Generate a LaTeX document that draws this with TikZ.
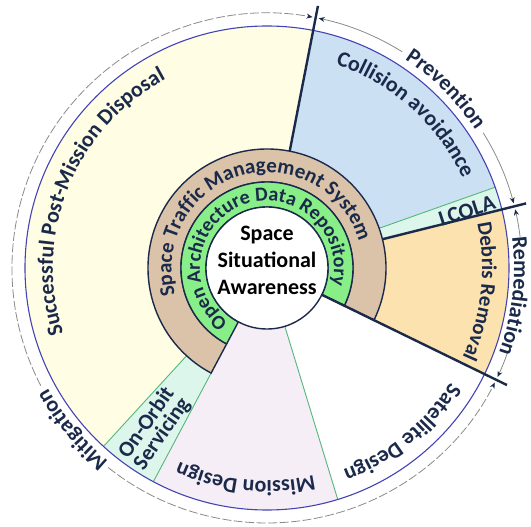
\documentclass[tikz,border=0pt]{standalone}
\usepackage{fontspec}
\newfontfamily\labelfont{Carlito}
\usetikzlibrary{arrows.meta,decorations.text}

\definecolor{inkblue}{HTML}{1B2A4A}
\definecolor{rimblue}{HTML}{4444B4}
\definecolor{seam}{HTML}{52B87A}
\definecolor{dimgrey}{HTML}{8A8A8A}
\definecolor{pmdfill}{HTML}{FFFDE4}
\definecolor{cafill}{HTML}{CCE0F4}
\definecolor{mintfill}{HTML}{DDF6EC}
\definecolor{drfill}{HTML}{FCE2AF}
\definecolor{mdfill}{HTML}{F6EEF6}
\definecolor{stmsfill}{HTML}{DAC3A8}
\definecolor{oadrfill}{HTML}{88EE88}

\newcommand{\arcfont}{\labelfont\bfseries\fontsize{22}{26}\selectfont}

\tikzset{
  sectorfill/.style={fill=#1},
  ringband/.style={fill=#1, draw=inkblue, line width=1.4pt},
  seamline/.style={draw=seam, line width=0.9pt},
  barline/.style={draw=inkblue, line width=2.4pt},
  rimline/.style={draw=rimblue, line width=1.1pt},
  dimarc/.style={draw=dimgrey, line width=0.8pt,
    -{Stealth[length=6pt, width=5pt, color=inkblue]}},
  dimdash/.style={dimarc, dash pattern=on 9pt off 2.5pt},
  flatlabel/.style={font=\arcfont, text=inkblue, align=center,
    inner sep=0pt},
}

% sector: style, start angle, end angle, inner radius, outer radius
\newcommand{\ringsector}[5]{%
  \path[#1] (#2:#4pt) arc[start angle=#2, end angle=#3, radius=#4pt]
    -- (#3:#5pt) arc[start angle=#3, end angle=#2, radius=#5pt] -- cycle;}

% curved label, read clockwise: mid angle, half span, baseline radius, font, text
\newcommand{\arclabel}[5]{%
  \path[decorate, decoration={text along path, text align=center,
      text color=inkblue, text={|#4|#5}}]
    ({#1+#2}:#3pt) arc[start angle={#1+#2}, end angle={#1-#2}, radius=#3pt];}

\begin{document}
\begin{tikzpicture}
  \useasboundingbox (-267pt,-259pt) rectangle (264pt,268pt);

  % Sectors
  \ringsector{sectorfill=cafill}{19.5}{79}{119}{242} % collision avoidance
  \ringsector{sectorfill=mintfill}{14}{19.5}{119}{242} % LCOLA
  \ringsector{sectorfill=drfill}{-26}{14}{119}{242} % debris removal
  \ringsector{sectorfill=white}{-73}{-26}{61}{242} % satellite design
  \ringsector{sectorfill=mdfill}{-118}{-73}{61}{242} % mission design
  \ringsector{sectorfill=mintfill}{227.5}{242}{119}{242} % on-orbit servicing
  \ringsector{sectorfill=pmdfill}{79}{227.5}{119}{242} % post-mission disposal

  % Seams
  \draw[seamline] (19.5:119pt) -- (19.5:242pt);
  \draw[seamline] (227.5:119pt) -- (227.5:242pt);
  \draw[seamline] (242:119pt) -- (242:242pt);
  \draw[seamline] (-73:61pt) -- (-73:242pt);

  % Rings
  \ringsector{ringband=stmsfill}{-26}{242}{86}{119} % traffic management
  \ringsector{ringband=oadrfill}{-26}{242}{61}{86} % data repository
  \node[circle, draw=inkblue, line width=1.4pt, fill=white,
    minimum size=122pt, inner sep=0pt] (ssa_disc) at (0,0) {};

  % Rim
  \draw[rimline] (0,0) circle[radius=242pt];

  % Bars
  \draw[barline] (79:119pt) -- (79:267pt);
  \draw[barline] (14:119pt) -- (14:267pt);
  \draw[barline] (-26:61pt) -- (-26:267pt);

  % Dimension arcs
  \draw[dimarc] (58:255pt) arc[start angle=58, end angle=78.3, radius=255pt];
  \draw[dimarc] (32:255pt) arc[start angle=32, end angle=14.7, radius=255pt];
  \draw[dimarc] (7:255pt) arc[start angle=7, end angle=13.3, radius=255pt];
  \draw[dimarc] (-19.5:255pt) arc[start angle=-19.5, end angle=-25.3, radius=255pt];
  \draw[dimdash] (231.5:255pt) arc[start angle=231.5, end angle=333.3, radius=255pt];
  \draw[dimdash] (207.5:255pt) arc[start angle=207.5, end angle=79.7, radius=255pt];

  % Curved labels
  \arclabel{158}{90}{214}{\arcfont}{Successful Post-Mission Disposal}
  \arclabel{48}{60}{215}{\arcfont}{Collision avoidance}
  \arclabel{-6.3}{60}{215}{\labelfont\bfseries\fontsize{21}{25}\selectfont}{Debris Removal}
  \arclabel{-50.7}{60}{216}{\arcfont}{Satellite Design}
  \arclabel{-95.8}{60}{213}{\arcfont}{Mission Design}
  \arclabel{45}{40}{250}{\arcfont}{Prevention}
  \arclabel{-6.5}{40}{247}{\arcfont}{Remediation}
  \arclabel{219.7}{40}{250}{\arcfont}{Mitigation}
  \arclabel{106}{120}{95.5}{\labelfont\bfseries\fontsize{21}{25}\selectfont}{Space Traffic Management System}
  \arclabel{110}{150}{67}{\labelfont\bfseries\fontsize{20}{24}\selectfont}{Open Architecture Data Repository}

  % Flat labels
  \node[flatlabel, rotate=18] (lcola) at (16:208pt) {LCOLA};
  \node[flatlabel, rotate=55, font=\labelfont\bfseries\fontsize{22}{19}\selectfont]
    (oos) at (235:196pt) {On-Orbit\\Servicing};
  \node[flatlabel, text=black, font=\labelfont\bfseries\fontsize{22}{27}\selectfont]
    (ssa) at (0,8pt) {Space\\Situational\\Awareness};

\end{tikzpicture}
\end{document}
